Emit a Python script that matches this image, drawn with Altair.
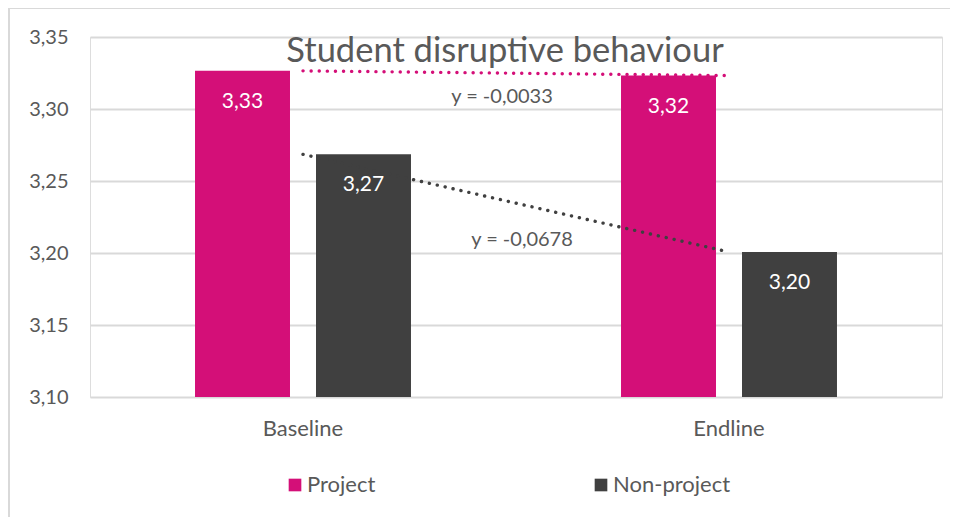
import altair as alt
import pandas as pd

categories = ["Baseline", "Endline"]
groups = ["Project", "Non-project"]
project = [3.3265, 3.3232]
non_project = [3.2685, 3.2007]
colors = ["#D40F78", "#404040"]
title_text = "Student disruptive behaviour"

rows = []
for g, vals in zip(groups, [project, non_project]):
    for c, v in zip(categories, vals):
        rows.append({"category": c, "group": g, "value": v})
df = pd.DataFrame(rows)

trend_rows = []
for g, vals in zip(groups, [project, non_project]):
    slope = vals[1] - vals[0]
    trend_rows.append({
        "category": categories[0],
        "group": g,
        "mid": (vals[0] + vals[1]) / 2,
        "label": "y = " + f"{slope:.4f}".replace(".", ","),
    })
trend_df = pd.DataFrame(trend_rows)

FONT = "Lato"
TXT = "#595959"
GRID = "#D9D9D9"

x_enc = alt.X("category:N", sort=categories, title=None,
              scale=alt.Scale(paddingInner=0, paddingOuter=0),
              axis=alt.Axis(labelAngle=0, labelFontSize=22, labelFont=FONT,
                            labelColor=TXT, labelPadding=21, ticks=False,
                            domain=False, grid=False))
xoff = alt.XOffset("group:N", sort=groups,
                   scale=alt.Scale(domain=groups, paddingInner=0.215, paddingOuter=0.868))
y_enc = alt.Y("value:Q", title=None,
              scale=alt.Scale(domain=[3.10, 3.35], nice=False, zero=False),
              axis=alt.Axis(values=[3.10, 3.15, 3.20, 3.25, 3.30, 3.35],
                            labelExpr="replace(format(datum.value, '.2f'), '.', ',')",
                            labelFontSize=20, labelFont=FONT, labelColor=TXT,
                            labelPadding=22, ticks=False, domain=False,
                            grid=True, gridColor=GRID, gridWidth=2))
color_enc = alt.Color("group:N", sort=groups,
                      scale=alt.Scale(domain=groups, range=colors),
                      legend=alt.Legend(title=None, orient="none", legendX=194, legendY=437,
                                        direction="horizontal", symbolType="square",
                                        symbolSize=160, symbolStrokeWidth=0,
                                        labelFontSize=22, labelFont=FONT, labelColor=TXT,
                                        labelOffset=1, columnPadding=214))

base = alt.Chart(df)

bars = base.mark_bar(clip=True).encode(
    x=x_enc, xOffset=xoff, y=y_enc, y2=alt.datum(3.10), color=color_enc
)

bar_text = base.transform_calculate(
    lbl="replace(format(datum.value, '.2f'), '.', ',')"
).mark_text(color="white", fontSize=21, font=FONT, baseline="middle", dy=31).encode(
    x=alt.X("category:N", sort=categories), xOffset=xoff, y=alt.Y("value:Q"), text="lbl:N"
)

trend = base.mark_line(strokeDash=[0.1, 8], strokeCap="round", strokeWidth=3.4).encode(
    x=alt.X("category:N", sort=categories), y=alt.Y("value:Q"),
    color=alt.Color("group:N", sort=groups, legend=None)
)

tbase = alt.Chart(trend_df)
slope_p = tbase.transform_filter(alt.datum.group == "Project").mark_text(
    fontSize=20, font=FONT, color=TXT, baseline="middle", dx=-14, dy=24
).encode(x=alt.X("category:N", sort=categories, bandPosition=1), y=alt.Y("mid:Q"), text="label:N")
slope_n = tbase.transform_filter(alt.datum.group == "Non-project").mark_text(
    fontSize=20, font=FONT, color=TXT, baseline="middle", dx=6, dy=37
).encode(x=alt.X("category:N", sort=categories, bandPosition=1), y=alt.Y("mid:Q"), text="label:N")

border_top = alt.Chart(df).mark_rule(color=GRID, strokeWidth=2).encode(
    x=alt.value(-82), x2=alt.value(1000), y=alt.value(-29)
).transform_filter("datum.category == 'Baseline' && datum.group == 'Project'")
border_left = alt.Chart(df).mark_rule(color=GRID, strokeWidth=2).encode(
    x=alt.value(-81), y=alt.value(-29), y2=alt.value(520)
).transform_filter("datum.category == 'Baseline' && datum.group == 'Project'")

chart = alt.layer(
    bars, bar_text, trend, slope_p, slope_n, border_top, border_left
).properties(
    width=852, height=360,
    padding={"left": 82, "top": 29, "right": 8, "bottom": 120},
    autosize=alt.AutoSizeParams(type="none"),
    title=alt.TitleParams(title_text, fontSize=34.5, font=FONT, color=TXT,
                          fontWeight="normal", anchor="middle", offset=-62, dx=-11),
).configure_view(stroke=None).configure(background="white")

chart.save("out.html", embed_options={"renderer": "svg", "actions": False})
